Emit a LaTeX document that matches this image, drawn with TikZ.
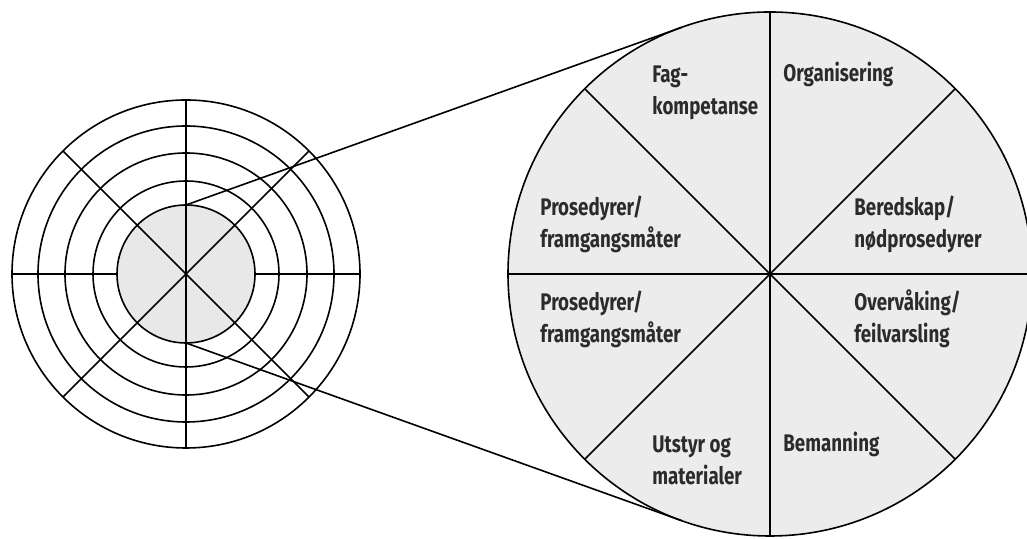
\documentclass[tikz,border=0pt]{standalone}
\usepackage{fontspec}
\setmainfont{Fira Sans}[FakeStretch=0.78]
\usetikzlibrary{calc}
\definecolor{diskgray}{HTML}{E8E8E8}
\definecolor{biggray}{HTML}{ECECEC}
\definecolor{txt}{HTML}{2B2B2B}
\begin{document}
\begin{tikzpicture}[x=0.5pt,y=0.5pt,
  ring/.style={draw=black,line width=0.8pt},
  spoke/.style={draw=black,line width=0.8pt},
  lbl/.style={anchor=base west,inner sep=0pt,align=left,text=txt,
    font=\fontsize{12}{16.2}\selectfont\bfseries}]
\useasboundingbox (0,0) rectangle (1027,539);
\begin{scope}
\clip (0,0) rectangle (1027,539);
% ---------- small wheel ----------
\coordinate (s) at (186,265);
\node[circle,minimum size=69pt,inner sep=0pt,outer sep=0pt,fill=diskgray,
  draw=black,line width=0.8pt] (hub) at (s) {};
\foreach \r in {93,121,148,174} \draw[ring] (s) circle[radius=\r];
\foreach \a in {45,90,135,225,270,315} \draw[spoke] (s) -- ++(\a:174);
\draw[spoke] (hub.east) -- ++(105,0);
\draw[spoke] (hub.west) -- ++(-105,0);
% ---------- large circle ----------
\node[circle,minimum size=262pt,inner sep=0pt,outer sep=0pt,fill=biggray,
  draw=black,line width=0.8pt] (big) at (770,265) {};
\foreach \a in {0,45,...,315} \draw[spoke] (big.center) -- ++(\a:262);
% ---------- connectors ----------
\draw[spoke] (hub.north) -- (tangent cs:node=big,point={(hub.north)},solution=2);
\draw[spoke] (hub.south) -- (tangent cs:node=big,point={(hub.south)},solution=1);
\end{scope}
% ---------- labels (anchor = baseline of last line) ----------
\node[lbl] (fag) at (652,424) {Fag-\\kompetanse};
\node[lbl] (org) at (783,457) {Organisering};
\node[lbl] (pro1) at (540,291) {Prosedyrer/\\framgangsmåter};
\node[lbl] (ber) at (854,291) {Beredskap/\\nødprosedyrer};
\node[lbl] (pro2) at (540,196) {Prosedyrer/\\framgangsmåter};
\node[lbl] (ove) at (854,196) {Overvåking/\\feilvarsling};
\node[lbl] (uts) at (652,54) {Utstyr og\\materialer};
\node[lbl] (bem) at (783,87) {Bemanning};
\end{tikzpicture}
\end{document}
